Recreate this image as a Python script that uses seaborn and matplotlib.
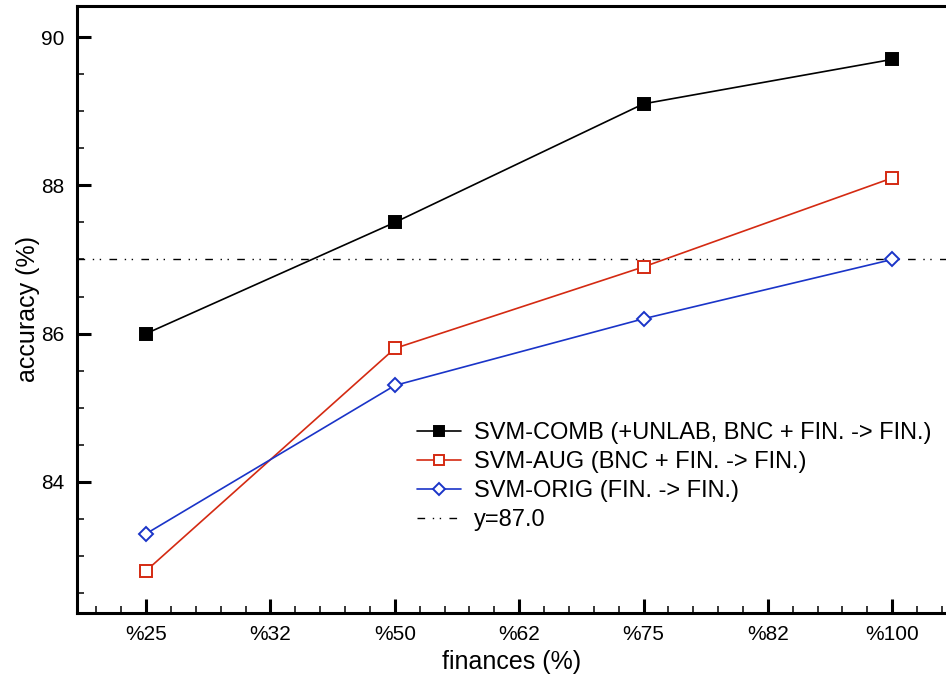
import pandas as pd
import matplotlib
matplotlib.use("Agg")
import matplotlib.pyplot as plt
import seaborn as sns
from matplotlib.ticker import MultipleLocator
from matplotlib.lines import Line2D

sns.set_style("white")
plt.rcParams['font.family'] = ['Liberation Sans', 'DejaVu Sans']
plt.rcParams['text.color'] = 'black'
plt.rcParams['axes.labelcolor'] = 'black'
plt.rcParams['xtick.color'] = 'black'
plt.rcParams['ytick.color'] = 'black'

# Datos
tick_labels = ['%25', '%32', '%50', '%62', '%75', '%82', '%100']
points = ['%25', '%50', '%75', '%100']
comb = [86.0, 87.5, 89.1, 89.7]
aug = [82.8, 85.8, 86.9, 88.1]
orig = [83.3, 85.3, 86.2, 87.0]
baseline = 87.0

names = ['SVM-COMB (+UNLAB, BNC + FIN. -> FIN.)',
         'SVM-AUG (BNC + FIN. -> FIN.)',
         'SVM-ORIG (FIN. -> FIN.)']

rows = []
for name, vals in zip(names, [comb, aug, orig]):
    for p, v in zip(points, vals):
        rows.append({'pos': tick_labels.index(p), 'acc': v, 'serie': name})
data = pd.DataFrame(rows)

fig = plt.figure(figsize=(9.46, 6.79), dpi=100)
ax = fig.add_axes([77 / 946, 1 - 613 / 679, (946 - 77) / 946 + 0.001, (613 - 6) / 679])

colors = {names[0]: 'black', names[1]: '#d42a12', names[2]: '#1a34c8'}
styles = {names[0]: dict(marker='s', mfc='black', ms=8),
          names[1]: dict(marker='s', mfc='white', ms=8),
          names[2]: dict(marker='D', mfc='white', ms=7)}

dash = (0, (5.5, 5.5, 1.0, 4.0, 1.0, 6.0))
ax.axhline(baseline, color='black', lw=1.0, linestyle=dash, zorder=1)

for name in names:
    sub = data[data['serie'] == name]
    sns.lineplot(data=sub, x='pos', y='acc', ax=ax, color=colors[name], lw=1.2,
                 marker=styles[name]['marker'], markersize=styles[name]['ms'],
                 markerfacecolor=styles[name]['mfc'], markeredgecolor=colors[name],
                 markeredgewidth=1.4, legend=False, zorder=3)

ax.set_xlim(-0.556, 6.44)
ax.set_ylim(82.23, 90.42)
ax.set_xticks(range(len(tick_labels)))
ax.set_xticklabels(tick_labels)
ax.xaxis.set_minor_locator(MultipleLocator(0.2))
ax.set_yticks([84, 86, 88, 90])
ax.yaxis.set_minor_locator(MultipleLocator(0.5))

ax.tick_params(which='major', direction='in', length=10, width=2.2, labelsize=15, pad=9)
ax.tick_params(which='minor', direction='in', length=5, width=1.1)
ax.tick_params(axis='x', which='both', top=False, bottom=True)
ax.tick_params(axis='y', which='both', left=True, right=False)

for s in ['left', 'bottom', 'top']:
    ax.spines[s].set_linewidth(2.2)
    ax.spines[s].set_color('black')
ax.spines['right'].set_visible(False)

ax.set_xlabel('finances (%)', fontsize=18, labelpad=4)
ax.set_ylabel('accuracy (%)', fontsize=18, labelpad=1)

handles = []
for name in names:
    handles.append(Line2D([], [], color=colors[name], lw=1.2,
                          marker=styles[name]['marker'], markersize=styles[name]['ms'] - 1,
                          markerfacecolor=styles[name]['mfc'],
                          markeredgecolor=colors[name], markeredgewidth=1.4))
handles.append(Line2D([], [], color='black', lw=1.0, linestyle=dash))
ax.legend(handles, names + ['y=87.0'], loc='upper left', bbox_to_anchor=(0.38, 0.33),
          frameon=False, fontsize=17, handlelength=1.86, handletextpad=0.55,
          labelspacing=0.3, borderaxespad=0)

fig.savefig('out.png', dpi=100)
